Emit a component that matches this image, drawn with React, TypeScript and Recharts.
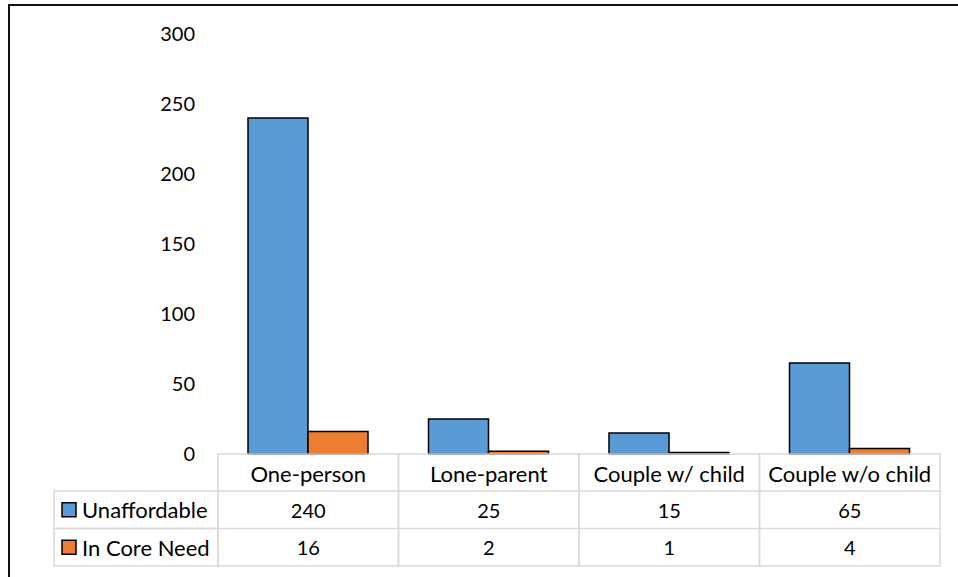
import { BarChart, Bar, XAxis, YAxis } from 'recharts';

const categories = ['One-person', 'Lone-parent', 'Couple w/ child', 'Couple w/o child'];
const unaffordable = [240, 25, 15, 65];
const inCoreNeed = [16, 2, 1, 4];
const yTicks = [0, 50, 100, 150, 200, 250, 300];

const SERIES = [
  { key: 'unaffordable', name: 'Unaffordable', color: '#5B9BD5' },
  { key: 'inCoreNeed', name: 'In Core Need', color: '#ED7D31' },
];

const data = categories.map((name, i) => ({
  name,
  unaffordable: unaffordable[i],
  inCoreNeed: inCoreNeed[i],
}));

const FONT = 'Lato, "Open Sans", sans-serif';
const GRID = '#d9d9d9';
const CELL_W = 180.5;
const HEAD_H = 37;
const ROW_H = 37.5;
const LABEL_W = 164;

// Excel-style data table drawn under each category
const TableTick = (props: any) => {
  const { x, y, index, payload } = props;
  const left = x - CELL_W / 2;
  const row = data[index];
  return (
    <g fontFamily={FONT} fill="#000">
      <rect x={left} y={y} width={CELL_W} height={HEAD_H + ROW_H * 2} fill="none" stroke={GRID} strokeWidth={1.5} />
      <line x1={left} x2={left + CELL_W} y1={y + HEAD_H} y2={y + HEAD_H} stroke={GRID} strokeWidth={1.5} />
      <line x1={left} x2={left + CELL_W} y1={y + HEAD_H + ROW_H} y2={y + HEAD_H + ROW_H} stroke={GRID} strokeWidth={1.5} />
      <text x={x} y={y + HEAD_H / 2 + 1} textAnchor="middle" dominantBaseline="central" fontSize={22} fill="#000">
        {payload.value}
      </text>
      {SERIES.map((s, r) => (
        <text key={s.key} x={x} y={y + HEAD_H + ROW_H * r + ROW_H / 2} textAnchor="middle" dominantBaseline="central" fontSize={20} fill="#000">
          {(row as any)[s.key]}
        </text>
      ))}
      {index === 0 &&
        SERIES.map((s, r) => {
          const ry = y + HEAD_H + ROW_H * r;
          return (
            <g key={s.key}>
              <rect x={left - LABEL_W} y={ry} width={LABEL_W} height={ROW_H} fill="none" stroke={GRID} strokeWidth={1.5} />
              <rect x={left - LABEL_W + 8} y={ry + ROW_H / 2 - 7} width={14} height={14} fill={s.color} stroke="#000" strokeWidth={1.5} />
              <text x={left - LABEL_W + 28} y={ry + ROW_H / 2} dominantBaseline="central" fontSize={22} fill="#000">
                {s.name}
              </text>
            </g>
          );
        })}
    </g>
  );
};

export default function App() {
  return (
    <div style={{ position: 'absolute', left: 0, top: 0, width: 958, height: 577, overflow: 'hidden', background: '#fff' }}>
      <div style={{ position: 'absolute', left: 8, top: 4, width: 1000, height: 700, border: '2px solid #111' }} />
      <div style={{ position: 'absolute', left: 0, top: 0 }}>
        <BarChart
          width={958}
          height={577}
          data={data}
          margin={{ top: 34, right: 18, left: 158, bottom: 8 }}
          barGap={0}
          barSize={60}
        >
          <YAxis
            width={60}
            domain={[0, 300]}
            ticks={yTicks}
            axisLine={false}
            tickLine={false}
            tickMargin={17}
            tick={{ fill: '#000', fontSize: 20, fontFamily: FONT }}
          />
          <XAxis
            dataKey="name"
            height={115}
            axisLine={false}
            tickLine={false}
            tickSize={0}
            tickMargin={0}
            interval={0}
            tick={<TableTick />}
          />
          {SERIES.map((s) => (
            <Bar
              key={s.key}
              dataKey={s.key}
              name={s.name}
              fill={s.color}
              stroke="#000"
              strokeWidth={1.5}
              isAnimationActive={false}
            />
          ))}
        </BarChart>
      </div>
    </div>
  );
}
